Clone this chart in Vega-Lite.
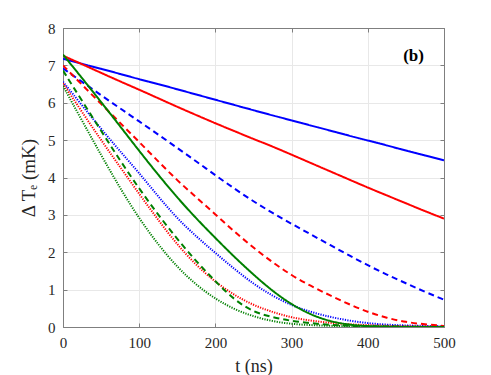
{
  "$schema": "https://vega.github.io/schema/vega-lite/v6.json",
  "width": 381,
  "height": 299,
  "autosize": {"type": "none"},
  "padding": {"left": 63, "top": 28, "right": 47, "bottom": 48},
  "background": "white",
  "config": {
    "view": {"stroke": "#7f7f7f", "strokeWidth": 1},
    "font": "Liberation Serif, Tinos, Times, DejaVu Serif, serif",
    "axis": {
      "labelFont": "Liberation Serif, Tinos, Times, DejaVu Serif, serif",
      "titleFont": "Liberation Serif, Tinos, Times, DejaVu Serif, serif",
      "labelFontSize": 15,
      "titleFontSize": 18,
      "titleFontWeight": "normal",
      "labelColor": "#262626",
      "titleColor": "#262626",
      "domainColor": "#7f7f7f",
      "tickColor": "#7f7f7f",
      "gridColor": "#e8e8e8",
      "gridOpacity": 1,
      "labelFlush": false
    }
  },
  "layer": [
    {
      "data": {
        "values": [
          {"t": 0, "bs": 7.18, "rs": 7.26, "gs": 7.29, "bd": 6.92, "rd": 7.0, "gd": 6.86, "bo": 6.56, "ro": 6.52, "go": 6.45},
          {"t": 25, "bs": 7.04, "rs": 7.03, "gs": 6.66, "bd": 6.56, "rd": 6.48, "gd": 6.05, "bo": 5.93, "ro": 5.75, "go": 5.52},
          {"t": 50, "bs": 6.91, "rs": 6.8, "gs": 6.02, "bd": 6.2, "rd": 5.97, "gd": 5.25, "bo": 5.3, "ro": 5.0, "go": 4.6},
          {"t": 75, "bs": 6.77, "rs": 6.57, "gs": 5.37, "bd": 5.85, "rd": 5.46, "gd": 4.45, "bo": 4.7, "ro": 4.28, "go": 3.71},
          {"t": 100, "bs": 6.63, "rs": 6.35, "gs": 4.71, "bd": 5.5, "rd": 4.95, "gd": 3.7, "bo": 4.12, "ro": 3.56, "go": 2.9},
          {"t": 125, "bs": 6.5, "rs": 6.12, "gs": 4.07, "bd": 5.15, "rd": 4.43, "gd": 3.0, "bo": 3.49, "ro": 2.86, "go": 2.2},
          {"t": 150, "bs": 6.36, "rs": 5.89, "gs": 3.46, "bd": 4.79, "rd": 3.92, "gd": 2.35, "bo": 2.9, "ro": 2.2, "go": 1.6},
          {"t": 175, "bs": 6.22, "rs": 5.67, "gs": 2.9, "bd": 4.43, "rd": 3.47, "gd": 1.75, "bo": 2.42, "ro": 1.65, "go": 1.12},
          {"t": 200, "bs": 6.08, "rs": 5.45, "gs": 2.38, "bd": 4.06, "rd": 3.01, "gd": 1.22, "bo": 1.98, "ro": 1.2, "go": 0.75},
          {"t": 225, "bs": 5.94, "rs": 5.24, "gs": 1.87, "bd": 3.7, "rd": 2.55, "gd": 0.72, "bo": 1.55, "ro": 0.85, "go": 0.47},
          {"t": 250, "bs": 5.8, "rs": 5.03, "gs": 1.4, "bd": 3.36, "rd": 2.12, "gd": 0.4, "bo": 1.15, "ro": 0.58, "go": 0.28},
          {"t": 275, "bs": 5.66, "rs": 4.83, "gs": 0.96, "bd": 3.05, "rd": 1.73, "gd": 0.26, "bo": 0.83, "ro": 0.4, "go": 0.15},
          {"t": 300, "bs": 5.53, "rs": 4.61, "gs": 0.6, "bd": 2.76, "rd": 1.38, "gd": 0.16, "bo": 0.58, "ro": 0.25, "go": 0.08},
          {"t": 325, "bs": 5.39, "rs": 4.39, "gs": 0.33, "bd": 2.48, "rd": 1.1, "gd": 0.1, "bo": 0.4, "ro": 0.17, "go": 0.05},
          {"t": 350, "bs": 5.26, "rs": 4.17, "gs": 0.15, "bd": 2.2, "rd": 0.85, "gd": 0.06, "bo": 0.27, "ro": 0.11, "go": 0.03},
          {"t": 375, "bs": 5.12, "rs": 3.95, "gs": 0.06, "bd": 1.92, "rd": 0.61, "gd": 0.03, "bo": 0.17, "ro": 0.07, "go": 0.02},
          {"t": 400, "bs": 4.99, "rs": 3.73, "gs": 0.02, "bd": 1.65, "rd": 0.4, "gd": 0.02, "bo": 0.1, "ro": 0.05, "go": 0.01},
          {"t": 425, "bs": 4.86, "rs": 3.52, "gs": 0.01, "bd": 1.4, "rd": 0.24, "gd": 0.01, "bo": 0.06, "ro": 0.03, "go": 0.0},
          {"t": 450, "bs": 4.72, "rs": 3.31, "gs": 0.0, "bd": 1.17, "rd": 0.13, "gd": 0.01, "bo": 0.04, "ro": 0.02, "go": 0.0},
          {"t": 475, "bs": 4.59, "rs": 3.1, "gs": 0.0, "bd": 0.94, "rd": 0.07, "gd": 0.0, "bo": 0.03, "ro": 0.01, "go": 0.0},
          {"t": 500, "bs": 4.46, "rs": 2.9, "gs": 0.0, "bd": 0.73, "rd": 0.03, "gd": 0.0, "bo": 0.02, "ro": 0.01, "go": 0.0}
        ]
      },
      "transform": [
        {"fold": ["bo", "ro", "go", "bd", "rd", "gd", "bs", "rs", "gs"], "as": ["curve", "v"]}
      ],
      "mark": {"type": "line", "interpolate": "basis", "clip": true},
      "encoding": {
        "x": {
          "field": "t", "type": "quantitative",
          "scale": {"domain": [0, 500], "nice": false},
          "axis": {"title": "t (ns)", "values": [0, 100, 200, 300, 400, 500], "grid": true, "tickSize": -4, "labelPadding": 12, "titlePadding": 7, "domain": true}
        },
        "y": {
          "field": "v", "type": "quantitative",
          "scale": {"domain": [0, 8], "nice": false},
          "axis": {"title": "Δ Tₑ (mK)", "titleFontSize": 19, "values": [0, 1, 2, 3, 4, 5, 6, 7, 8], "grid": true, "tickSize": -4, "labelPadding": 12, "titlePadding": 9, "domain": true}
        },
        "color": {
          "field": "curve", "type": "nominal", "legend": null,
          "scale": {
            "domain": ["bs", "rs", "gs", "bd", "rd", "gd", "bo", "ro", "go"],
            "range": ["#0000ff", "#ff0000", "#008000", "#0000ff", "#ff0000", "#008000", "#0000ff", "#ff0000", "#008000"]
          }
        },
        "strokeDash": {
          "field": "curve", "type": "nominal", "legend": null,
          "scale": {
            "domain": ["bs", "rs", "gs", "bd", "rd", "gd", "bo", "ro", "go"],
            "range": [[1, 0], [1, 0], [1, 0], [6, 4], [6, 4], [6, 4], [1.2, 1.3], [1.2, 1.3], [1.2, 1.3]]
          }
        },
        "strokeWidth": {
          "field": "curve", "type": "ordinal", "legend": null,
          "scale": {
            "domain": ["bs", "rs", "gs", "bd", "rd", "gd", "bo", "ro", "go"],
            "range": [2, 2, 2, 2, 2, 2, 1.6, 1.6, 1.6]
          }
        }
      }
    },
    {
      "data": {"values": [{"t": 460, "v": 7.25, "label": "(b)"}]},
      "mark": {"type": "text", "font": "Liberation Serif, Tinos, Times, DejaVu Serif, serif", "fontSize": 17, "fontWeight": "bold", "color": "#000000", "align": "center", "baseline": "middle"},
      "encoding": {
        "x": {
          "field": "t", "type": "quantitative",
          "axis": {"orient": "top", "values": [0, 100, 200, 300, 400, 500], "labels": false, "title": null, "grid": false, "tickSize": -4, "domain": true}
        },
        "y": {
          "field": "v", "type": "quantitative",
          "axis": {"orient": "right", "values": [0, 1, 2, 3, 4, 5, 6, 7, 8], "labels": false, "title": null, "grid": false, "tickSize": -4, "domain": true}
        },
        "text": {"field": "label"}
      }
    }
  ],
  "resolve": {"axis": {"x": "independent", "y": "independent"}}
}
